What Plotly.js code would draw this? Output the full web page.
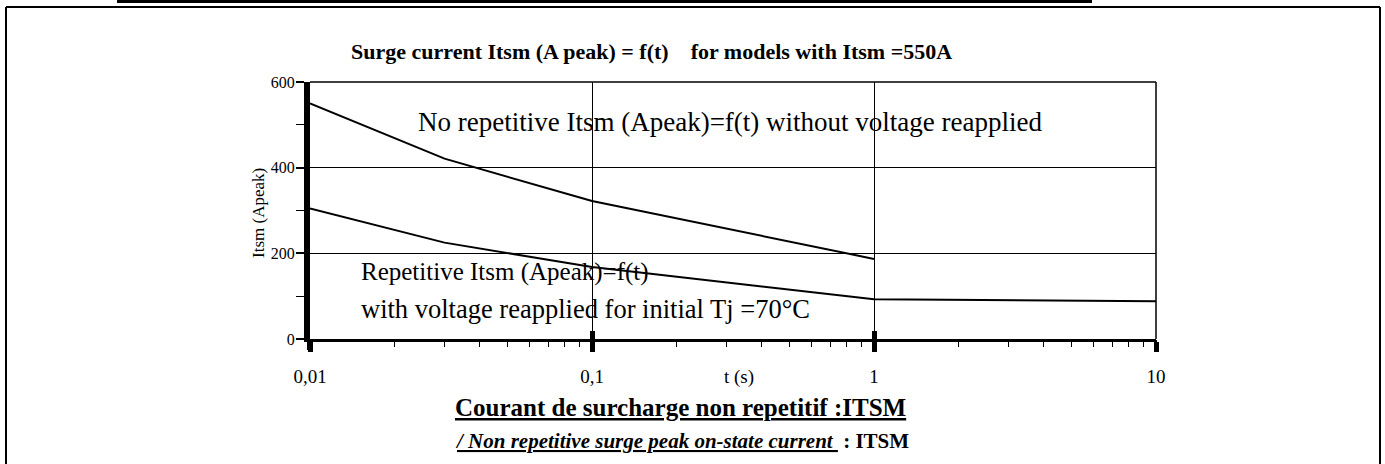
<!DOCTYPE html>
<html>
<head>
<meta charset="utf-8">
<script src="https://cdn.plot.ly/plotly-3.0.1.min.js"></script>
<style>html,body{margin:0;padding:0;background:#fff;}#chart{width:1385px;height:464px;}</style>
</head>
<body>
<div id="chart"></div>
<script>
// ---- data ----
const t_noRep = [0.01, 0.03, 0.1, 1];
const i_noRep = [550, 421, 322, 187];
const t_rep = [0.01, 0.03, 0.1, 1, 10];
const i_rep = [305, 225, 168, 93, 88];
const xTickVals = [0.01, 0.1, 1, 10];
const xTickText = ['0,01', '0,1', '1', '10'];
const yTickVals = [0, 200, 400, 600];
const yTickText = ['0', '200', '400', '600'];

// ---- geometry helpers (plot area pixels) ----
const W = 1385, H = 464;
const L = 310, R = 1156, T = 82, B = 339;
const px = x => (x - L) / (R - L);
const py = y => (B - y) / (B - T);
const SERIF = 'Liberation Serif, Times New Roman, serif';

const traces = [
  {x: t_noRep, y: i_noRep, type: 'scatter', mode: 'lines', line: {color: '#000', width: 2}, hoverinfo: 'x+y', showlegend: false},
  {x: t_rep, y: i_rep, type: 'scatter', mode: 'lines', line: {color: '#000', width: 2}, hoverinfo: 'x+y', showlegend: false},
  // helper traces so overlay axes exist (no visible marks)
  {x: [xTickVals[0]], y: [yTickVals[0]], xaxis: 'x2', type: 'scatter', mode: 'markers', marker: {opacity: 0}, hoverinfo: 'skip', showlegend: false},
  {x: [xTickVals[0]], y: [yTickVals[0]], xaxis: 'x3', type: 'scatter', mode: 'markers', marker: {opacity: 0}, hoverinfo: 'skip', showlegend: false}
];

const ann = (text, x, y, size, xanchor, extra) => Object.assign({
  text: text, xref: 'paper', yref: 'paper', x: px(x), y: py(y),
  xanchor: xanchor || 'left', yanchor: 'middle', showarrow: false,
  font: {family: SERIF, size: size, color: '#000'}
}, extra || {});

const xr = [Math.log10(xTickVals[0]), Math.log10(xTickVals[xTickVals.length - 1])];

const layout = {
  width: W, height: H,
  margin: {l: L, r: W - R, t: T, b: H - B, pad: 0},
  paper_bgcolor: '#fff', plot_bgcolor: '#fff',
  showlegend: false,
  font: {family: SERIF, color: '#000'},
  xaxis: {
    type: 'log', range: xr,
    tickmode: 'array', tickvals: xTickVals, ticktext: xTickText,
    showgrid: true, gridcolor: '#000', gridwidth: 1,
    showline: true, linecolor: '#000', linewidth: 3,
    ticks: 'outside', ticklen: 10, tickwidth: 5, tickcolor: '#000',
    ticklabelstandoff: 8,
    tickfont: {family: SERIF, size: 19, color: '#000'},
    zeroline: false, fixedrange: true
  },
  xaxis2: {
    type: 'log', overlaying: 'x', anchor: 'y', matches: 'x', range: xr,
    dtick: 'D1', ticks: 'outside', ticklen: 7, tickwidth: 1, tickcolor: '#000',
    showticklabels: false, showgrid: false, showline: false, zeroline: false
  },
  xaxis3: {
    type: 'log', overlaying: 'x', anchor: 'y', matches: 'x', range: xr,
    tickmode: 'array', tickvals: xTickVals.slice(1),
    ticks: 'inside', ticklen: 8, tickwidth: 5, tickcolor: '#000',
    showticklabels: false, showgrid: false, showline: false, zeroline: false
  },
  yaxis: {
    range: [yTickVals[0], yTickVals[yTickVals.length - 1]],
    tickmode: 'array', tickvals: yTickVals, ticktext: yTickText,
    showgrid: true, gridcolor: '#000', gridwidth: 1,
    showline: true, linecolor: '#000', linewidth: 6,
    ticks: 'outside', ticklen: 8, tickwidth: 2, tickcolor: '#000',
    minor: {dtick: 100, ticks: 'outside', ticklen: 8, tickwidth: 1, tickcolor: '#000', showgrid: false},
    ticklabelstandoff: -2,
    tickfont: {family: SERIF, size: 16, color: '#000'},
    zeroline: false, fixedrange: true
  },
  annotations: [
    ann('<b>Surge current Itsm (A peak) = f(t)    for models with Itsm =550A</b>', 651, 52, 22, 'center'),
    ann('Itsm (Apeak)', 258, 213, 17, 'center', {textangle: -90}),
    ann('No repetitive Itsm (Apeak)=f(t) without voltage reapplied', 416, 122, 27),
    ann('Repetitive Itsm (Apeak)=f(t)', 359, 272, 25),
    ann('with voltage reapplied for initial Tj =70°C', 359, 309, 26.5),
    ann('t (s)', 739, 377, 19, 'center'),
    ann('<b><u>Courant de surcharge non repetitif :ITSM</u></b>', 453, 407, 25),
    ann('<b><i><u>/ Non repetitive surge peak on-state current </u></i> : ITSM</b>', 453, 441, 21)
  ],
  shapes: [
    // plot area border (gridlines at 600 and at 10)
    {type: 'line', xref: 'paper', yref: 'paper', x0: 0, x1: 1, y0: 1, y1: 1, line: {color: '#000', width: 1.5}},
    {type: 'line', xref: 'paper', yref: 'paper', x0: 1, x1: 1, y0: 0, y1: 1, line: {color: '#000', width: 1.5}},
    // outer frame
    {type: 'line', xref: 'paper', yref: 'paper', x0: px(6), x1: px(6), y0: py(7), y1: py(470), line: {color: '#000', width: 2}},
    {type: 'line', xref: 'paper', yref: 'paper', x0: px(6), x1: px(1380), y0: py(7), y1: py(7), line: {color: '#000', width: 2}},
    {type: 'line', xref: 'paper', yref: 'paper', x0: px(1380), x1: px(1380), y0: py(7), y1: py(470), line: {color: '#000', width: 2}},
    // thick rule at very top
    {type: 'line', xref: 'paper', yref: 'paper', x0: px(117), x1: px(1092), y0: py(1.5), y1: py(1.5), line: {color: '#000', width: 3}},
    // y axis extends below the x axis
    {type: 'line', xref: 'paper', yref: 'paper', x0: 0, x1: 0, y0: py(339), y1: py(350), line: {color: '#000', width: 6}}
  ]
};

Plotly.newPlot('chart', traces, layout, {staticPlot: true, displayModeBar: false});
</script>
</body>
</html>
